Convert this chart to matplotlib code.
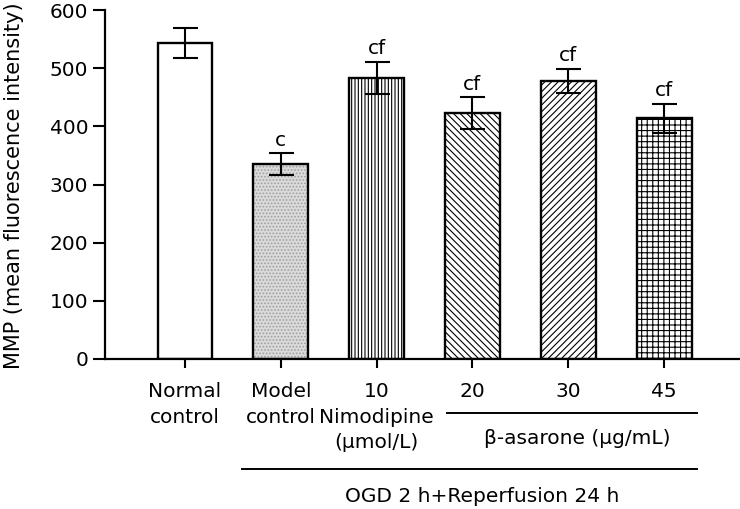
import matplotlib
matplotlib.use("Agg")
import matplotlib.pyplot as plt
import matplotlib.transforms as mtransforms
import numpy as np

categories = ["Normal\ncontrol", "Model\ncontrol", "10\nNimodipine\n(μmol/L)", "20", "30", "45"]
means = [543, 335, 483, 423, 478, 414]
errors = [26, 19, 28, 27, 21, 25]
sig_labels = ["", "c", "cf", "cf", "cf", "cf"]
group_beta = "β-asarone (μg/mL)"
group_ogd = "OGD 2 h+Reperfusion 24 h"
ylabel = "MMP (mean fluorescence intensity)"
yticks = [0, 100, 200, 300, 400, 500, 600]

plt.rcParams['font.family'] = ['DejaVu Sans']
plt.rcParams['hatch.linewidth'] = 0.8
FS = 14.5

fig = plt.figure(figsize=(7.4, 5.09), dpi=100)
ax = fig.add_axes([105/740, 1-359/509, 1-105/740, 349/509])

x = np.arange(len(categories))
w = 0.574
faces = ['white', '#dadada', 'white', 'white', 'white', 'white']
hatches = [None, '.....', '|||||', '\\\\\\\\\\', '/////', '+++']
hatch_cols = ['black', '#a0a0a0', 'black', 'black', 'black', 'black']
for i in range(len(x)):
    ax.bar(x[i], means[i], width=w, color=faces[i], edgecolor=hatch_cols[i],
           hatch=hatches[i], linewidth=0, zorder=2)
    ax.bar(x[i], means[i], width=w, facecolor='none', edgecolor='black',
           linewidth=1.7, zorder=3)
ax.errorbar(x, means, yerr=errors, fmt='none', ecolor='black', elinewidth=1.5,
            capsize=9, capthick=1.5, zorder=4)
for i in range(len(x)):
    if sig_labels[i]:
        ax.text(x[i], means[i] + errors[i] + 6, sig_labels[i], ha='center',
                va='bottom', fontsize=FS)

ax.set_ylim(0, 600)
ax.set_xlim(-0.835, 5.793)
ax.set_yticks(yticks)
ax.set_yticklabels([str(t) for t in yticks], fontsize=FS)
ax.set_xticks(x)
ax.set_xticklabels(categories, fontsize=FS, linespacing=1.45)
ax.tick_params(axis='y', direction='out', length=9, width=1.5, pad=3)
ax.tick_params(axis='x', direction='out', length=6.5, width=1.5, pad=10)
for s in ['top', 'right']:
    ax.spines[s].set_visible(False)
for s in ['left', 'bottom']:
    ax.spines[s].set_linewidth(1.6)
ax.set_ylabel(ylabel, fontsize=15, labelpad=6)
ax.yaxis.set_label_coords(-0.128, 0.498)

trans = mtransforms.blended_transform_factory(ax.transData, ax.transAxes)
ax.plot([2.735, 5.345], [-0.1547, -0.1547], color='black', lw=1.4,
        transform=trans, clip_on=False)
ax.text(4.09, -0.2264, group_beta, ha='center', va='center', fontsize=FS,
        transform=trans)
ax.plot([0.595, 5.345], [-0.3152, -0.3152], color='black', lw=1.4,
        transform=trans, clip_on=False)
ax.text(3.1, -0.395, group_ogd, ha='center', va='center', fontsize=FS,
        transform=trans)

fig.savefig("out.png", dpi=100)
